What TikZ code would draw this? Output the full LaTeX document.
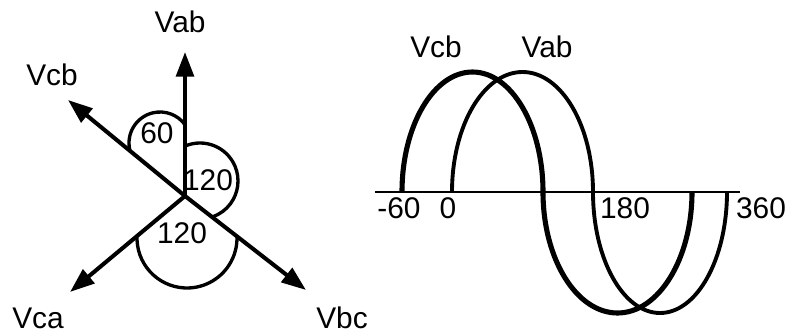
\documentclass[tikz,border=0pt]{standalone}
\usepackage{fontspec}
\setmainfont{Liberation Sans}
\usetikzlibrary{arrows.meta}
\tikzset{
  phasor/.style={line width=2.3pt, -{Triangle[length=14pt,width=10pt]}},
  anglearc/.style={line width=1.9pt},
  lbl/.style={font=\fontsize{17}{20}\selectfont, inner sep=0pt},
}

\begin{document}
\begin{tikzpicture}[x=0.02cm,y=0.02cm]
    \useasboundingbox (0,0) rectangle (794,335);

    % Phasor diagram
    \coordinate (o) at (185,139);
    \coordinate (tab) at (185,283);
    \coordinate (tcb) at (68,235);
    \coordinate (tca) at (70,43);
    \coordinate (tbc) at (306,45);
    \draw[phasor] (o) -- (tab);
    \draw[phasor] (o) -- (tcb);
    \draw[phasor] (o) -- (tca);
    \draw[phasor] (o) -- (tbc);

    % Angle arcs
    \draw[anglearc] (160,192) ++(193:31) arc[start angle=193, end angle=36, radius=31];
    \draw[anglearc] (200,154) ++(113:38) arc[start angle=113, end angle=-70, radius=38];
    \draw[anglearc] (187,97) ++(177:50) arc[start angle=177, end angle=362, radius=50];

    % Labels
    \node[lbl] (lab) at (180,313) {Vab};
    \node[lbl] (lcb) at (52,260) {Vcb};
    \node[lbl] (lca) at (38,17) {Vca};
    \node[lbl] (lbc) at (342,17) {Vbc};
    \node[lbl] (a60) at (157,202) {60};
    \node[lbl] (a120r) at (208,155) {120};
    \node[lbl] (a120b) at (182,102) {120};

    % Waveforms
    \coordinate (xl) at (375,143);
    \coordinate (xr) at (740,143);
    \draw[line width=1.7pt] (xl) -- (xr);
    \draw[line width=2.9pt] (402,143) arc[start angle=180, end angle=0, x radius=70.5, y radius=120]
        arc[start angle=180, end angle=360, x radius=74.5, y radius=121];
    \draw[line width=2.2pt] (452,143) arc[start angle=180, end angle=0, x radius=70.5, y radius=120]
        arc[start angle=180, end angle=360, x radius=67, y radius=121];

    % Axis and curve labels
    \node[lbl] (t60) at (399,127) {-60};
    \node[lbl] (t0) at (448,127) {0};
    \node[lbl] (t180) at (625,127) {180};
    \node[lbl] (t360) at (761,127) {360};
    \node[lbl] (wcb) at (436,288) {Vcb};
    \node[lbl] (wab) at (547,288) {Vab};
\end{tikzpicture}
\end{document}
